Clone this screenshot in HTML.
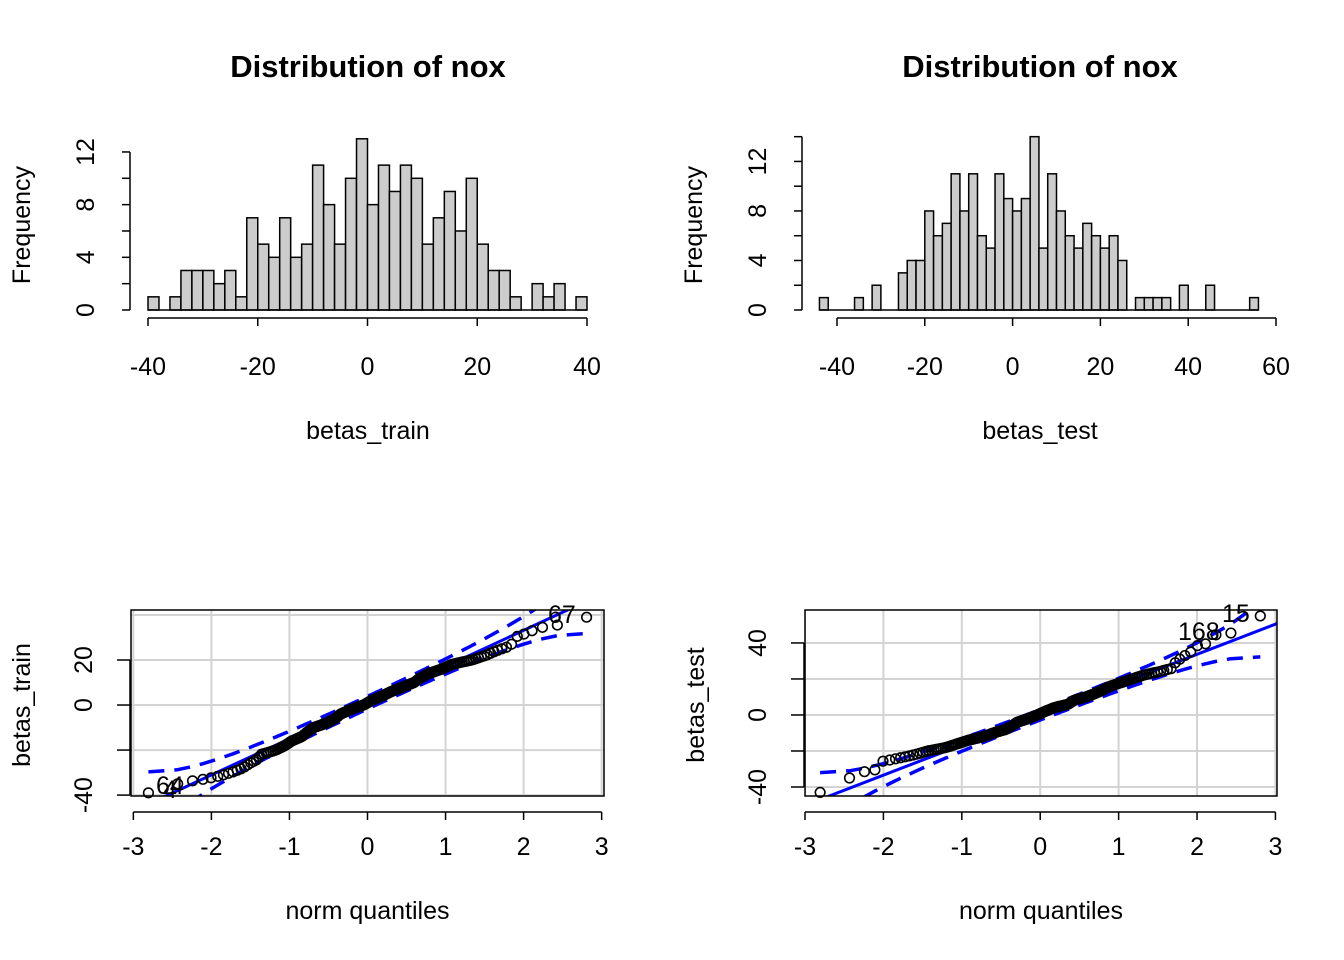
<!DOCTYPE html>
<html><head><meta charset="utf-8"><style>
html,body{margin:0;padding:0;background:#fff}
svg{display:block;font-family:"Liberation Sans",Arial,sans-serif}
</style></head><body>
<svg id="s" width="1344" height="960" viewBox="0 0 1344 960" xmlns="http://www.w3.org/2000/svg"></svg>
<script>
// ---- data ----
const trainBinStart = -40;
const trainBinWidth = 2;
const trainCounts = [1,0,1,3,3,3,2,3,1,7,5,4,7,4,5,11,8,5,10,13,8,11,9,11,10,5,7,9,6,10,5,3,3,1,0,2,1,2,0,1];
const testBinStart = -44;
const testBinWidth = 2;
const testCounts = [1,0,0,0,1,0,2,0,0,3,4,4,8,6,7,11,8,11,6,5,11,9,8,9,14,5,11,8,6,5,7,6,5,6,4,0,1,1,1,1,0,2,0,0,2,0,0,0,0,1];
const trainXTicks = [-40,-20,0,20,40];
const testXTicks = [-40,-20,0,20,40,60];
const trainYTicks = [0,2,4,6,8,10,12];
const testYTicks = [0,2,4,6,8,10,12,14];
const histYLabels = [0,4,8,12];
const qqXTicks = [-3,-2,-1,0,1,2,3];
const qqTrainYTicks = [-40,-20,0,20];
const qqTrainYLabels = [-40,0,20];
const qqTestYTicks = [-40,-20,0,20,40];
const qqTestYLabels = [-40,0,40];

const S = document.getElementById('s');
const NS = 'http://www.w3.org/2000/svg';
const FS = 25;
function el(tag, attrs, parent){const e=document.createElementNS(NS,tag);for(const k in attrs)e.setAttribute(k,attrs[k]);(parent||S).appendChild(e);return e;}
function txt(x,y,s,size,opts){opts=opts||{};const t=el('text',{x:x,y:y,'font-size':size,'text-anchor':opts.anchor||'middle',fill:'#000'});if(opts.bold)t.setAttribute('font-weight','bold');if(opts.rot)t.setAttribute('transform','rotate(-90 '+x+' '+y+')');t.textContent=s;return t;}

function qnorm(p){
  const a=[-39.69683028665376,220.9460984245205,-275.9285104469687,138.3577518672690,-30.66479806614716,2.506628277459239];
  const b=[-54.47609879822406,161.5858368580409,-155.6989798598866,66.80131188771972,-13.28068155305418];
  const c=[-0.007784894002430293,-0.3223964580411365,-2.400758277161838,-2.549732539343734,4.374664141464968,2.938163982698783];
  const d=[0.007784695709041462,0.3224671290700398,2.445134137142996,3.754408661907416];
  let q,r;
  if(p<0.02425){q=Math.sqrt(-2*Math.log(p));return (((((c[0]*q+c[1])*q+c[2])*q+c[3])*q+c[4])*q+c[5])/((((d[0]*q+d[1])*q+d[2])*q+d[3])*q+1);}
  if(p>1-0.02425){q=Math.sqrt(-2*Math.log(1-p));return -(((((c[0]*q+c[1])*q+c[2])*q+c[3])*q+c[4])*q+c[5])/((((d[0]*q+d[1])*q+d[2])*q+d[3])*q+1);}
  q=p-0.5;r=q*q;return (((((a[0]*r+a[1])*r+a[2])*r+a[3])*r+a[4])*r+a[5])*q/(((((b[0]*r+b[1])*r+b[2])*r+b[3])*r+b[4])*r+1);
}
function dnorm(z){return Math.exp(-z*z/2)/Math.sqrt(2*Math.PI);}
function quantile(s,p){const h=(s.length-1)*p,lo=Math.floor(h);return s[lo]+(h-lo)*((s[Math.min(lo+1,s.length-1)])-s[lo]);}

function hist(cfg){
  const g=el('g',{});
  
  
  const xs=v=>cfg.x0+(v-cfg.xmin)*(cfg.x1-cfg.x0)/(cfg.xmax-cfg.xmin);
  const ys=v=>cfg.y0-v*cfg.ppu;
  cfg.counts.forEach((c,i)=>{
    if(c<=0)return;
    const lo=cfg.start+i*cfg.w;
    const r=el('rect',{x:xs(lo),y:ys(c),width:xs(lo+cfg.w)-xs(lo),height:ys(0)-ys(c),fill:'#cccccc',stroke:'#000','stroke-width':1.5},g);
    
    
  });
  el('line',{x1:xs(cfg.start),x2:xs(cfg.start+cfg.counts.length*cfg.w),y1:ys(0),y2:ys(0),stroke:'#000','stroke-width':1.5},g);
  const ax=el('g',{},g);
  
  
  const ay=cfg.y0+8;
  el('line',{x1:xs(cfg.xticks[0]),x2:xs(cfg.xticks[cfg.xticks.length-1]),y1:ay,y2:ay,stroke:'#000','stroke-width':1.5},ax);
  cfg.xticks.forEach(t=>{el('line',{x1:xs(t),x2:xs(t),y1:ay,y2:ay+8,stroke:'#000','stroke-width':1.5},ax);txt(xs(t),375,String(t),FS);});
  const yx=cfg.yaxis;
  const yax=el('g',{},g);
  
  
  el('line',{x1:yx,x2:yx,y1:ys(cfg.yticks[0]),y2:ys(cfg.yticks[cfg.yticks.length-1]),stroke:'#000','stroke-width':1.5},yax);
  cfg.yticks.forEach(t=>el('line',{x1:yx-8,x2:yx,y1:ys(t),y2:ys(t),stroke:'#000','stroke-width':1.5},yax));
  histYLabels.forEach(t=>txt(yx-36,ys(t),String(t),FS,{rot:true}));
  const ti=txt(cfg.cx,77,'Distribution of nox',31,{bold:true});
  
  const xl=txt(cfg.cx,439,cfg.xlab,FS);
  
  const yl=txt(cfg.yaxis-100,225,'Frequency',FS,{rot:true});
  
}

function expand(start,w,counts){
  const v=[];counts.forEach((c,i)=>{for(let j=0;j<c;j++)v.push(start+i*w+w*(j+0.5)/c);});return v.sort((a,b)=>a-b);
}

function qq(cfg){
  const g=el('g',{});
  
  
  const xs=v=>cfg.bx0+(v-cfg.xmin)*(cfg.bx1-cfg.bx0)/(cfg.xmax-cfg.xmin);
  const ys=v=>cfg.by1-(v-cfg.ymin)*(cfg.by1-cfg.by0)/(cfg.ymax-cfg.ymin);
  const clip=el('clipPath',{id:'c'+cfg.name},g);
  el('rect',{x:cfg.bx0,y:cfg.by0,width:cfg.bx1-cfg.bx0,height:cfg.by1-cfg.by0},clip);
  const pg=el('g',{'clip-path':'url(#c'+cfg.name+')'},g);
  qqXTicks.forEach(t=>el('line',{x1:xs(t),x2:xs(t),y1:cfg.by0,y2:cfg.by1,stroke:'#d3d3d3','stroke-width':2},pg));
  cfg.ygrid.forEach(t=>el('line',{x1:cfg.bx0,x2:cfg.bx1,y1:ys(t),y2:ys(t),stroke:'#d3d3d3','stroke-width':2},pg));
  const data=cfg.data,n=data.length;
  const z=data.map((_,i)=>qnorm((i+0.5)/n));
  const q1=quantile(data,0.25),q3=quantile(data,0.75),z1=qnorm(0.25),z3=qnorm(0.75);
  const slope=(q3-q1)/(z3-z1),inter=q1-slope*z1;
  const ln=el('line',{x1:xs(cfg.xmin),y1:ys(inter+slope*cfg.xmin),x2:xs(cfg.xmax),y2:ys(inter+slope*cfg.xmax),stroke:'#0000ff','stroke-width':3},pg);
  
  
  [1,-1].forEach(sg=>{
    let d='';z.forEach((zi,i)=>{const p=(i+0.5)/n;const se=slope/dnorm(zi)*Math.sqrt(p*(1-p)/n);const y=inter+slope*zi+sg*1.96*se;d+=(i?'L':'M')+xs(zi).toFixed(1)+','+ys(y).toFixed(1);});
    const pa=el('path',{d:d,fill:'none',stroke:'#0000ff','stroke-width':3.5,'stroke-dasharray':'16,10'},pg);
    
    
  });
  data.forEach((v,i)=>{
    const c=el('circle',{cx:xs(z[i]),cy:ys(v),r:4.8,fill:'none',stroke:'#000','stroke-width':1.6},g);
    
    
  });
  el('rect',{x:cfg.bx0,y:cfg.by0,width:cfg.bx1-cfg.bx0,height:cfg.by1-cfg.by0,fill:'none',stroke:'#000','stroke-width':1.5},g);
  cfg.labels.forEach(l=>txt(l[0],l[1],l[2],FS,{anchor:'start'}));
  const ay=cfg.by1+8;
  el('line',{x1:xs(-3),x2:xs(3),y1:ay+8,y2:ay+8,stroke:'#000','stroke-width':1.5},g);
  qqXTicks.forEach(t=>{el('line',{x1:xs(t),x2:xs(t),y1:ay+8,y2:ay+16,stroke:'#000','stroke-width':1.5},g);txt(xs(t),855,String(t),FS);});
  const yx=cfg.bx0-1;
  el('line',{x1:yx,x2:yx,y1:ys(cfg.yticks[0]),y2:ys(cfg.yticks[cfg.yticks.length-1]),stroke:'#000','stroke-width':1.5},g);
  cfg.yticks.forEach(t=>el('line',{x1:yx-13,x2:yx,y1:ys(t),y2:ys(t),stroke:'#000','stroke-width':1.5},g));
  cfg.ylabels.forEach(t=>txt(yx-38,ys(t),String(t),FS,{rot:true}));
  const xl=txt((cfg.bx0+cfg.bx1)/2,919,'norm quantiles',FS);
  
  const yl=txt(cfg.bx0-101,705,cfg.ylab,FS,{rot:true});
  
}

hist({name:'hist-train',counts:trainCounts,start:trainBinStart,w:trainBinWidth,xmin:-40,xmax:40,x0:148,x1:587,y0:310,ppu:13.17,xticks:trainXTicks,yticks:trainYTicks,yaxis:130,cx:368,xlab:'betas_train'});
hist({name:'hist-test',counts:testCounts,start:testBinStart,w:testBinWidth,xmin:-40,xmax:60,x0:837,x1:1276,y0:310,ppu:12.38,xticks:testXTicks,yticks:testYTicks,yaxis:802,cx:1040,xlab:'betas_test'});
qq({name:'qq-train',data:expand(trainBinStart,trainBinWidth,trainCounts),bx0:131,bx1:604,by0:610,by1:796,xmin:-3.03,xmax:3.03,ymin:-40.4,ymax:42.2,ygrid:[-40,-20,0,20,40],yticks:qqTrainYTicks,ylabels:qqTrainYLabels,ylab:'betas_train',labels:[[548,623,'67'],[156,794,'64'],[163,798,'4']]});
qq({name:'qq-test',data:expand(testBinStart,testBinWidth,testCounts),bx0:805,bx1:1277,by0:610,by1:796,xmin:-3,xmax:3.02,ymin:-45,ymax:58.3,ygrid:[-40,-20,0,20,40],yticks:qqTestYTicks,ylabels:qqTestYLabels,ylab:'betas_test',labels:[[1222,622,'15'],[1178,640,'168']]});
</script>
</body></html>
